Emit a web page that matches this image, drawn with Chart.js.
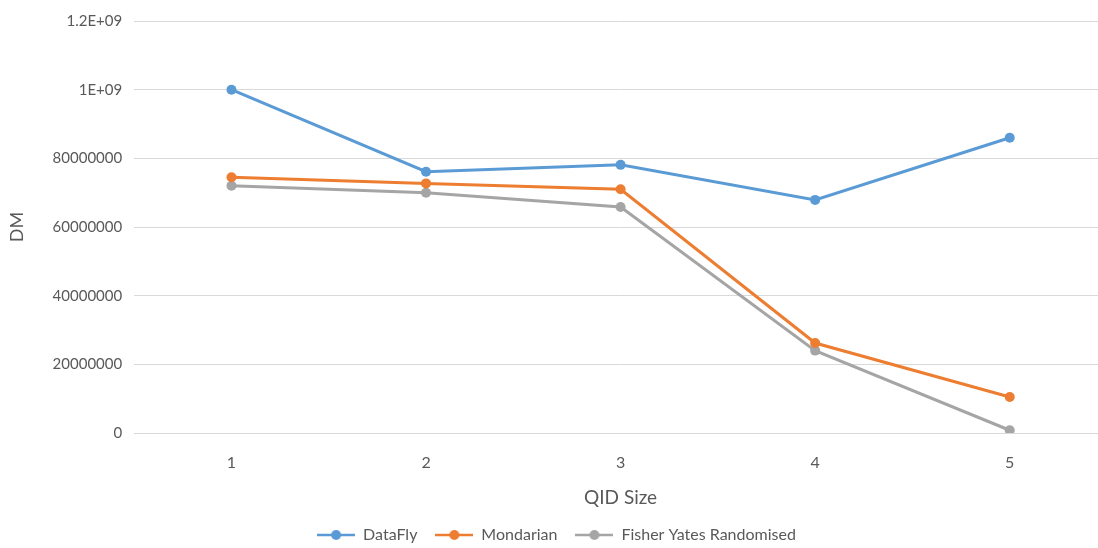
<!DOCTYPE html>
<html>
<head>
<meta charset="utf-8">
<script src="https://cdn.jsdelivr.net/npm/chart.js@4"></script>
<style>
    html, body { margin: 0; padding: 0; background: #fff; overflow: hidden; }
    #wrap { width: 1098px; height: 548px; overflow: hidden; }
</style>
</head>
<body>
<div id="wrap"><canvas id="qidChart" width="1117" height="553"></canvas></div>
<script>
// Dados do gráfico
const qidSizes = ["1", "2", "3", "4", "5"];
const dataFly = [1.0e9, 0.761e9, 0.781e9, 0.679e9, 0.860e9];
const mondarian = [0.745e9, 0.727e9, 0.710e9, 0.262e9, 0.105e9];
const fisherYates = [0.720e9, 0.700e9, 0.658e9, 0.240e9, 0.008e9];
const yTickLabels = ["0", "20000000", "40000000", "60000000", "80000000", "1E+09", "1.2E+09"];

const FONT = "Lato, 'Open Sans', sans-serif";
const TEXT_COLOR = "#595959";

// Marcador da legenda: linha com ponto no meio
function legendMarker(color) {
    const c = document.createElement("canvas");
    c.width = 38;
    c.height = 12;
    const ctx = c.getContext("2d");
    ctx.strokeStyle = color;
    ctx.lineWidth = 2.5;
    ctx.beginPath();
    ctx.moveTo(0, 6);
    ctx.lineTo(38, 6);
    ctx.stroke();
    ctx.fillStyle = color;
    ctx.beginPath();
    ctx.arc(19, 6, 5, 0, Math.PI * 2);
    ctx.fill();
    return c;
}

function series(label, data, color) {
    return {
        label: label,
        data: data,
        borderColor: color,
        backgroundColor: color,
        borderWidth: 3,
        pointRadius: 5,
        pointHoverRadius: 5,
        pointBorderWidth: 0,
        pointStyle: "circle",
        fill: false,
        tension: 0,
        marker: legendMarker(color)
    };
}

const ctx = document.getElementById("qidChart").getContext("2d");
new Chart(ctx, {
    type: "line",
    data: {
        labels: qidSizes,
        datasets: [
            series("DataFly", dataFly, "#5B9BD5"),
            series("Mondarian", mondarian, "#ED7D31"),
            series("Fisher Yates Randomised", fisherYates, "#A5A5A5")
        ]
    },
    options: {
        responsive: false,
        animation: false,
        layout: { padding: { top: 3, right: 10, left: 6, bottom: 0 } },
        plugins: {
            tooltip: { enabled: false },
            legend: {
                position: "bottom",
                labels: {
                    font: { family: FONT, size: 16 },
                    color: TEXT_COLOR,
                    usePointStyle: true,
                    pointStyleWidth: 38,
                    padding: 18,
                    generateLabels(chart) {
                        return chart.data.datasets.map((ds, i) => ({
                            text: ds.label,
                            pointStyle: ds.marker,
                            fillStyle: ds.borderColor,
                            strokeStyle: ds.borderColor,
                            lineWidth: 0,
                            fontColor: TEXT_COLOR,
                            datasetIndex: i,
                            hidden: false
                        }));
                    }
                }
            }
        },
        scales: {
            x: {
                offset: true,
                grid: { display: false, drawTicks: false },
                border: { color: "#D9D9D9" },
                ticks: {
                    font: { family: FONT, size: 16 },
                    color: TEXT_COLOR,
                    padding: 20
                },
                title: {
                    display: true,
                    text: "QID Size",
                    font: { family: FONT, size: 19 },
                    color: TEXT_COLOR,
                    padding: { top: -6, bottom: 0 }
                }
            },
            y: {
                min: 0,
                max: 1.2e9,
                grid: { color: "#D9D9D9", drawTicks: false },
                border: { display: false },
                ticks: {
                    stepSize: 2e8,
                    font: { family: FONT, size: 15 },
                    color: TEXT_COLOR,
                    padding: 12,
                    callback: (value, index) => yTickLabels[index]
                },
                title: {
                    display: true,
                    text: "DM",
                    font: { family: FONT, size: 18 },
                    color: TEXT_COLOR,
                    padding: { top: 0, bottom: 13 }
                }
            }
        }
    }
});
</script>
</body>
</html>
